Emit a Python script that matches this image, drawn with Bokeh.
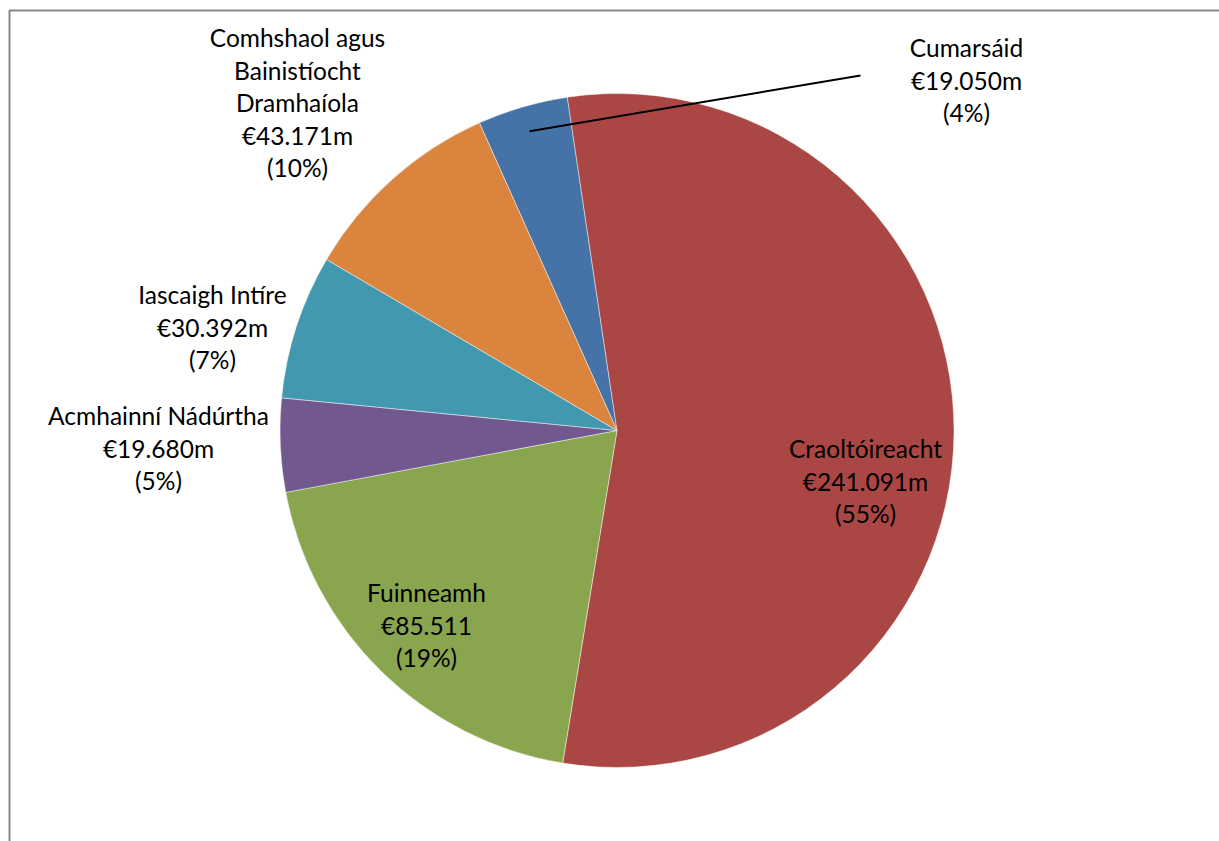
import math
from bokeh.plotting import figure
from bokeh.models import Range1d, ColumnDataSource
from bokeh.embed import file_html
from bokeh.resources import INLINE
from bokeh.core.properties import value

# ---- data ----
categories = ["Cumarsáid", "Craoltóireacht", "Fuinneamh", "Acmhainní Nádúrtha",
              "Iascaigh Intíre", "Comhshaol agus\nBainistíocht\nDramhaíola"]
values = [19.050, 241.091, 85.511, 19.680, 30.392, 43.171]
value_labels = ["€19.050m", "€241.091m", "€85.511", "€19.680m", "€30.392m", "€43.171m"]
pct_labels = ["(4%)", "(55%)", "(19%)", "(5%)", "(7%)", "(10%)"]
colors = ["#4572A7", "#AA4643", "#89A54E", "#71588F", "#4198AF", "#DB843D"]

# ---- layout (page pixels) ----
W, H = 1219, 841
OX, OY = 0, 0
CENTER = (616.5, 430)
R = 337
FIRST_ANGLE = -24.1          # clockwise from 12 o'clock, degrees
label_pos = [(966, 47), (865, 448), (426, 592), (158, 415), (212, 294), (297, 37)]
LINE_STEP = 32.5
leader_end = (860, 75)
leader_frac = 0.925


def px(x):
    return x - OX


def py(y):
    return OY + H - y


p = figure(width=W, height=H, output_backend="svg", toolbar_location=None,
           x_range=Range1d(0, W), y_range=Range1d(0, H), min_border=0)
p.axis.visible = False
p.grid.visible = False
p.outline_line_color = None
p.background_fill_color = "white"
p.border_fill_color = "white"

cx, cy = px(CENTER[0]), py(CENTER[1])
total = sum(values)
starts, ends, mids = [], [], []
theta = FIRST_ANGLE
for v in values:
    span = v / total * 360.0
    starts.append(math.radians(90 - theta))
    ends.append(math.radians(90 - (theta + span)))
    mids.append(theta + span / 2)
    theta += span

src = ColumnDataSource(dict(x=[cx] * len(values), y=[cy] * len(values),
                            start=starts, end=ends, color=colors))
p.wedge(x="x", y="y", radius=R, start_angle="start", end_angle="end",
        direction="clock", fill_color="color", line_color="white",
        line_alpha=0.45, line_width=1, source=src)

# leader line for the first (small) slice
m = math.radians(mids[0])
lx0 = cx + leader_frac * R * math.sin(m)
ly0 = cy + leader_frac * R * math.cos(m)
p.line([lx0, px(leader_end[0])], [ly0, py(leader_end[1])], line_color="black", line_width=2)

# labels
tx, ty, tt = [], [], []
for i, name in enumerate(categories):
    lines = name.split("\n") + [value_labels[i], pct_labels[i]]
    x0, y0 = label_pos[i]
    for k, s in enumerate(lines):
        tx.append(px(x0))
        ty.append(py(y0 + k * LINE_STEP))
        tt.append(s)
p.text(x=tx, y=ty, text=tt, text_align="center", text_baseline="alphabetic",
       text_font=value("Lato"), text_font_size="24.5px", text_color="#000000")

# chart-area border (left and top edges visible)
p.line([px(9), px(9), px(1219)], [0, py(10), py(10)], line_color="#878787", line_width=2)

open("out.html", "w").write(file_html(p, INLINE))
